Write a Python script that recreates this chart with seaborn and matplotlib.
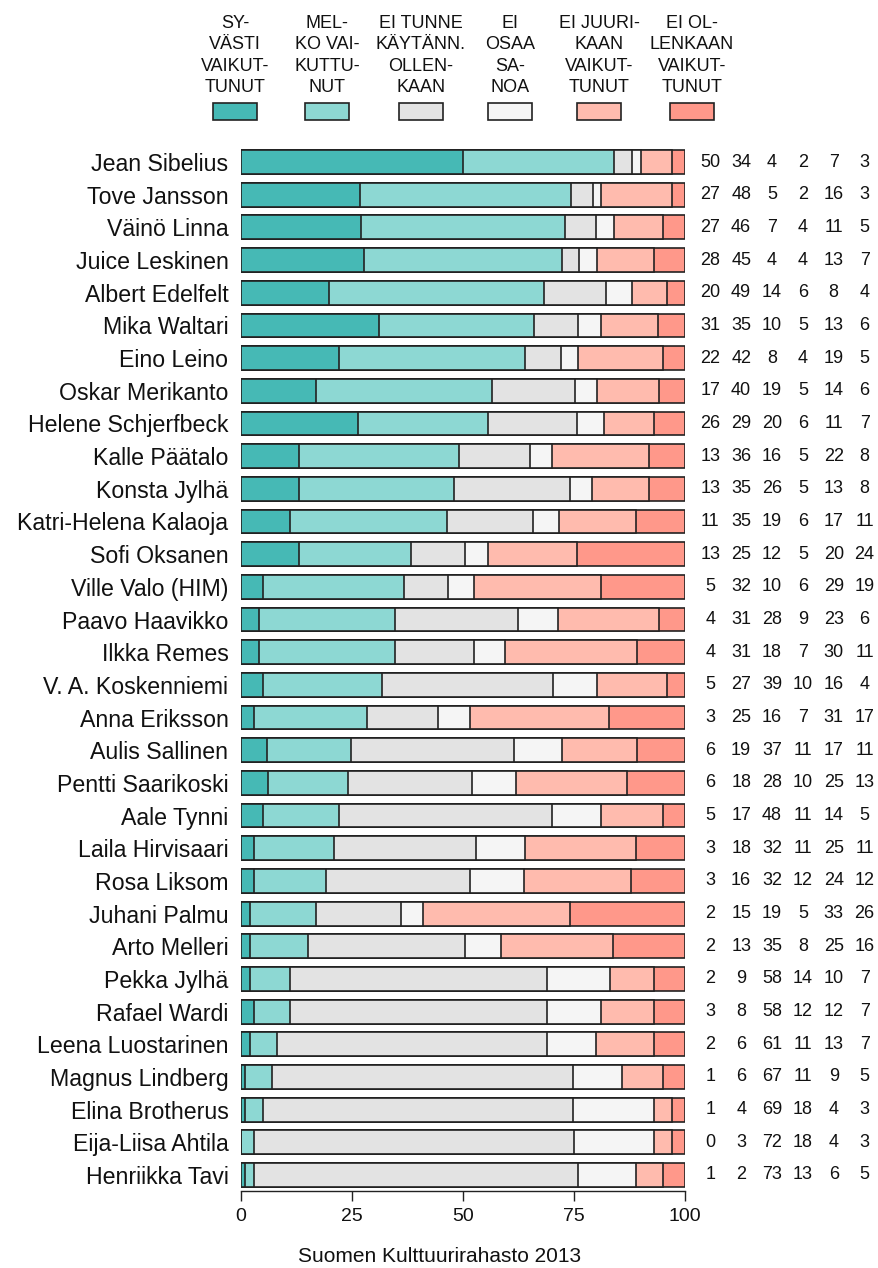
import numpy as np
import pandas as pd
import matplotlib
matplotlib.use("Agg")
import matplotlib.pyplot as plt
from matplotlib.patches import Rectangle
import seaborn as sns

names = ["Jean Sibelius", "Tove Jansson", "Väinö Linna", "Juice Leskinen", "Albert Edelfelt",
         "Mika Waltari", "Eino Leino", "Oskar Merikanto", "Helene Schjerfbeck", "Kalle Päätalo",
         "Konsta Jylhä", "Katri-Helena Kalaoja", "Sofi Oksanen", "Ville Valo (HIM)", "Paavo Haavikko",
         "Ilkka Remes", "V. A. Koskenniemi", "Anna Eriksson", "Aulis Sallinen", "Pentti Saarikoski",
         "Aale Tynni", "Laila Hirvisaari", "Rosa Liksom", "Juhani Palmu", "Arto Melleri",
         "Pekka Jylhä", "Rafael Wardi", "Leena Luostarinen", "Magnus Lindberg", "Elina Brotherus",
         "Eija-Liisa Ahtila", "Henriikka Tavi"]

syvasti = [50, 27, 27, 28, 20, 31, 22, 17, 26, 13, 13, 11, 13, 5, 4, 4, 5, 3, 6, 6, 5, 3, 3, 2, 2, 2, 3, 2, 1, 1, 0, 1]
melko = [34, 48, 46, 45, 49, 35, 42, 40, 29, 36, 35, 35, 25, 32, 31, 31, 27, 25, 19, 18, 17, 18, 16, 15, 13, 9, 8, 6, 6, 4, 3, 2]
ei_tunne = [4, 5, 7, 4, 14, 10, 8, 19, 20, 16, 26, 19, 12, 10, 28, 18, 39, 16, 37, 28, 48, 32, 32, 19, 35, 58, 58, 61, 67, 69, 72, 73]
ei_osaa = [2, 2, 4, 4, 6, 5, 4, 5, 6, 5, 5, 6, 5, 6, 9, 7, 10, 7, 11, 10, 11, 11, 12, 5, 8, 14, 12, 11, 11, 18, 18, 13]
ei_juuri = [7, 16, 11, 13, 8, 13, 19, 14, 11, 22, 13, 17, 20, 29, 23, 30, 16, 31, 17, 25, 14, 25, 24, 33, 25, 10, 12, 13, 9, 4, 4, 6]
ei_ollenkaan = [3, 3, 5, 7, 4, 6, 5, 6, 7, 8, 8, 11, 24, 19, 6, 11, 4, 17, 11, 13, 5, 11, 12, 26, 16, 7, 7, 7, 5, 3, 3, 5]

categories = ["SY-\nVÄSTI\nVAIKUT-\nTUNUT", "MEL-\nKO VAI-\nKUTTU-\nNUT", "EI TUNNE\nKÄYTÄNN.\nOLLEN-\nKAAN",
              "EI\nOSAA\nSA-\nNOA", "EI JUURI-\nKAAN\nVAIKUT-\nTUNUT", "EI OL-\nLENKAAN\nVAIKUT-\nTUNUT"]
colors = ["#46B9B5", "#8DD8D3", "#E3E3E3", "#F5F5F5", "#FFBBAE", "#FF988A"]
xticks = [0, 25, 50, 75, 100]
source = "Suomen Kulttuurirahasto 2013"

series = [syvasti, melko, ei_tunne, ei_osaa, ei_juuri, ei_ollenkaan]
vals = np.array(series, dtype=float).T  # rows = persons
pct = vals / vals.sum(axis=1, keepdims=True) * 100
cum = np.cumsum(pct, axis=1)

df = pd.DataFrame({"name": names})
for k in range(6):
    df[f"c{k}"] = cum[:, k]

sns.set_style("white")
plt.rcParams["font.family"] = ["Liberation Sans", "DejaVu Sans"]

W, H = 879, 1268
fig = plt.figure(figsize=(W / 100, H / 100), dpi=100)
ax_left = 241 / W
ax_w = 444 / W
ax_bottom = (H - 1191) / H
ax_h = 1042 / H
ax = fig.add_axes([ax_left, ax_bottom, ax_w, ax_h])

for k in range(5, -1, -1):
    sns.barplot(data=df, x=f"c{k}", y="name", order=names, color=colors[k],
                edgecolor="#222222", linewidth=1.2, width=0.73, saturation=1,
                orient="h", ax=ax)

ax.set_xlim(0, 100)
ax.set_ylim(31.49, -0.4)
ax.set_xlabel("")
ax.set_ylabel("")
ax.set_xticks(xticks)
ax.set_xticklabels([str(t) for t in xticks], fontsize=14)
ax.tick_params(axis="x", length=7, width=1, color="#222222", pad=5, direction="out", bottom=True,
               labelcolor="#111111")
ax.tick_params(axis="y", length=0, pad=9, labelsize=16.7, labelcolor="#111111")
for s in ["top", "right", "left"]:
    ax.spines[s].set_visible(False)
ax.spines["bottom"].set_color("#222222")
ax.spines["bottom"].set_linewidth(1)

# numbers on the right
col_x = [1.057 + i * 0.0695 for i in range(6)]
trans = ax.get_yaxis_transform()
for i in range(len(names)):
    for k in range(6):
        ax.text(col_x[k], i, str(series[k][i]), transform=trans, ha="center", va="center",
                fontsize=13, color="#111111", clip_on=False)

# legend
centers = [235, 327, 421, 510, 599, 692]
for k in range(6):
    cx = centers[k] / W
    fig.text(cx, 1 - 96 / H, categories[k], ha="center", va="bottom", fontsize=13,
             linespacing=1.33, color="#111111")
    fig.patches.append(Rectangle(((centers[k] - 22) / W, 1 - 120 / H), 44 / W, 17 / H,
                                 transform=fig.transFigure, facecolor=colors[k],
                                 edgecolor="#222222", linewidth=1.2))

fig.text(440 / W, 1 - 1257 / H, source, ha="center", va="center", fontsize=15, color="#111111")

fig.savefig("out.png", dpi=100)
